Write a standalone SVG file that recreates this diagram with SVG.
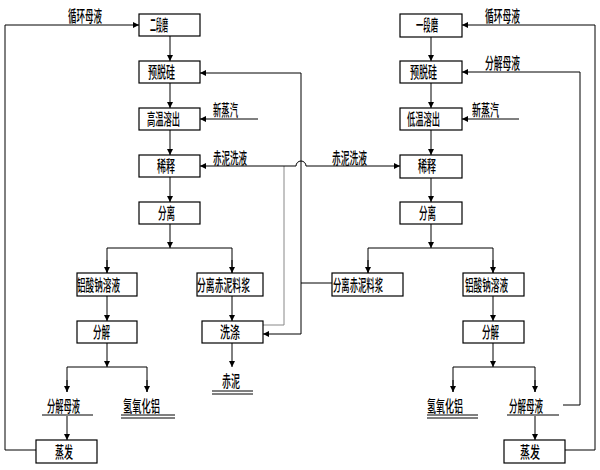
<svg xmlns="http://www.w3.org/2000/svg" width="600" height="470" viewBox="0 0 600 470">
<defs>
<marker id="ar" viewBox="0 0 10 10" refX="10" refY="5" markerWidth="7" markerHeight="6" orient="auto" markerUnits="userSpaceOnUse">
<path d="M0,0 L10,5 L0,10 z" fill="#000"/>
</marker>
</defs>
<style>
.box{fill:#fff;stroke:#000;stroke-width:1.2}
.ln{fill:none;stroke:#000;stroke-width:1}
.gr{fill:none;stroke:#888;stroke-width:1}
.t{font-family:"Noto Sans CJK SC","Noto Sans CJK JP",sans-serif;font-size:16px;font-weight:500;fill:#000}
</style>
<rect width="600" height="470" fill="#fff"/>
<g id="connectors">
<path class="ln" d="M170,36 V61" marker-end="url(#ar)"/>
<path class="ln" d="M170,83 V108" marker-end="url(#ar)"/>
<path class="ln" d="M170,130 V155" marker-end="url(#ar)"/>
<path class="ln" d="M170,177 V202" marker-end="url(#ar)"/>
<path class="ln" d="M170,224 V248" marker-end="url(#ar)"/>
<path class="ln" d="M107,273 V248 H232 V273" />
<path class="ln" d="M107,260 V273" marker-end="url(#ar)"/>
<path class="ln" d="M232,260 V273" marker-end="url(#ar)"/>
<path class="ln" d="M107,296 V321" marker-end="url(#ar)"/>
<path class="ln" d="M232,296 V321" marker-end="url(#ar)"/>
<path class="ln" d="M107,343 V367" marker-end="url(#ar)"/>
<path class="ln" d="M67,392 V367 H147 V392"/>
<path class="ln" d="M67,380 V392" marker-end="url(#ar)"/>
<path class="ln" d="M147,380 V392" marker-end="url(#ar)"/>
<path class="ln" d="M67,416 V440" marker-end="url(#ar)"/>
<path class="ln" d="M232,343 V367" marker-end="url(#ar)"/>
<path class="ln" d="M36,450 H5 V25 H139" marker-end="url(#ar)"/>
<path class="ln" d="M258,119 H200" marker-end="url(#ar)"/>
<path class="ln" d="M301,334 V73 H200" marker-end="url(#ar)"/>
<path class="ln" d="M301,334 H263" marker-end="url(#ar)"/>
<path class="gr" d="M263,325 H284 V166"/>
<path class="ln" d="M284,166 H200" marker-end="url(#ar)"/>
<path class="ln" d="M284,166 H296 A5,5 0 0 1 306,166 H400" marker-end="url(#ar)"/>
<path class="ln" d="M301,283 H332"/>
<path class="ln" d="M431,37 V61" marker-end="url(#ar)"/>
<path class="ln" d="M431,83 V108" marker-end="url(#ar)"/>
<path class="ln" d="M431,130 V155" marker-end="url(#ar)"/>
<path class="ln" d="M431,178 V202" marker-end="url(#ar)"/>
<path class="ln" d="M431,224 V248" marker-end="url(#ar)"/>
<path class="ln" d="M368,273 V248 H493 V273"/>
<path class="ln" d="M368,260 V273" marker-end="url(#ar)"/>
<path class="ln" d="M493,260 V273" marker-end="url(#ar)"/>
<path class="ln" d="M493,296 V321" marker-end="url(#ar)"/>
<path class="ln" d="M493,343 V367" marker-end="url(#ar)"/>
<path class="ln" d="M453,392 V367 H535 V392"/>
<path class="ln" d="M453,380 V392" marker-end="url(#ar)"/>
<path class="ln" d="M535,380 V392" marker-end="url(#ar)"/>
<path class="ln" d="M535,416 V440" marker-end="url(#ar)"/>
<path class="ln" d="M565,450 H595 V25 H462" marker-end="url(#ar)"/>
<path class="ln" d="M563,405 H580 V72 H462" marker-end="url(#ar)"/>
<path class="ln" d="M519,119 H462" marker-end="url(#ar)"/>
</g>
<g id="labels">
<text class="t" x="68" y="22" textLength="34" lengthAdjust="spacingAndGlyphs">循环母液</text>
<text class="t" x="485" y="22" textLength="35" lengthAdjust="spacingAndGlyphs">循环母液</text>
<text class="t" x="485" y="69" textLength="35" lengthAdjust="spacingAndGlyphs">分解母液</text>
<text class="t" x="213" y="116" textLength="25" lengthAdjust="spacingAndGlyphs">新蒸汽</text>
<text class="t" x="472" y="116" textLength="27" lengthAdjust="spacingAndGlyphs">新蒸汽</text>
<text class="t" x="213" y="164" textLength="34" lengthAdjust="spacingAndGlyphs">赤泥洗液</text>
<text class="t" x="332" y="164" textLength="35" lengthAdjust="spacingAndGlyphs">赤泥洗液</text>
</g>
<g id="n1"><rect class="box" x="139" y="14" width="61" height="22"/><text class="t" x="150" y="31" textLength="18" lengthAdjust="spacingAndGlyphs">二段磨</text></g>
<g id="n2"><rect class="box" x="139" y="61" width="61" height="22"/><text class="t" x="148" y="78" textLength="27" lengthAdjust="spacingAndGlyphs">预脱硅</text></g>
<g id="n3"><rect class="box" x="139" y="108" width="61" height="22"/><text class="t" x="147" y="125" textLength="33" lengthAdjust="spacingAndGlyphs">高温溶出</text></g>
<g id="n4"><rect class="box" x="139" y="155" width="61" height="22"/><text class="t" x="157" y="172" textLength="18" lengthAdjust="spacingAndGlyphs">稀释</text></g>
<g id="n5"><rect class="box" x="139" y="202" width="61" height="22"/><text class="t" x="158" y="219" textLength="17" lengthAdjust="spacingAndGlyphs">分离</text></g>
<g id="n6"><rect class="box" x="77" y="273" width="60" height="23"/><text class="t" x="77" y="291" textLength="43" lengthAdjust="spacingAndGlyphs">铝酸钠溶液</text></g>
<g id="n7"><rect class="box" x="197" y="273" width="66" height="23"/><text class="t" x="197" y="291" textLength="53" lengthAdjust="spacingAndGlyphs">分离赤泥料浆</text></g>
<g id="n8"><rect class="box" x="77" y="321" width="60" height="22"/><text class="t" x="93" y="338" textLength="17" lengthAdjust="spacingAndGlyphs">分解</text></g>
<g id="n9"><rect class="box" x="202" y="321" width="61" height="22"/><text class="t" x="220" y="338" textLength="20" lengthAdjust="spacingAndGlyphs">洗涤</text></g>
<g id="n10"><text class="t" x="47" y="412" textLength="33" lengthAdjust="spacingAndGlyphs">分解母液</text><path class="ln" d="M42,415 H93"/></g>
<g id="n11"><text class="t" x="123" y="412" textLength="37" lengthAdjust="spacingAndGlyphs">氢氧化铝</text><path class="ln" d="M121,415 H175 M121,418 H175"/></g>
<g id="n12"><text class="t" x="222" y="387" textLength="18" lengthAdjust="spacingAndGlyphs">赤泥</text><path class="ln" d="M212,391 H253 M212,394 H253"/></g>
<g id="n13"><rect class="box" x="36" y="440" width="61" height="23"/><text class="t" x="55" y="458" textLength="18" lengthAdjust="spacingAndGlyphs">蒸发</text></g>
<g id="m1"><rect class="box" x="400" y="14" width="62" height="23"/><text class="t" x="416" y="31" textLength="22" lengthAdjust="spacingAndGlyphs">一段磨</text></g>
<g id="m2"><rect class="box" x="400" y="61" width="62" height="22"/><text class="t" x="410" y="78" textLength="27" lengthAdjust="spacingAndGlyphs">预脱硅</text></g>
<g id="m3"><rect class="box" x="400" y="108" width="62" height="22"/><text class="t" x="407" y="125" textLength="33" lengthAdjust="spacingAndGlyphs">低温溶出</text></g>
<g id="m4"><rect class="box" x="400" y="155" width="62" height="23"/><text class="t" x="418" y="172" textLength="18" lengthAdjust="spacingAndGlyphs">稀释</text></g>
<g id="m5"><rect class="box" x="400" y="202" width="62" height="22"/><text class="t" x="419" y="219" textLength="17" lengthAdjust="spacingAndGlyphs">分离</text></g>
<g id="m6"><rect class="box" x="332" y="273" width="71" height="23"/><text class="t" x="333" y="291" textLength="50" lengthAdjust="spacingAndGlyphs">分离赤泥料浆</text></g>
<g id="m7"><rect class="box" x="463" y="273" width="61" height="23"/><text class="t" x="465" y="291" textLength="43" lengthAdjust="spacingAndGlyphs">铝酸钠溶液</text></g>
<g id="m8"><rect class="box" x="463" y="321" width="61" height="22"/><text class="t" x="482" y="338" textLength="17" lengthAdjust="spacingAndGlyphs">分解</text></g>
<g id="m9"><text class="t" x="427" y="412" textLength="36" lengthAdjust="spacingAndGlyphs">氢氧化铝</text><path class="ln" d="M427,415 H478 M427,418 H478"/></g>
<g id="m10"><text class="t" x="509" y="412" textLength="34" lengthAdjust="spacingAndGlyphs">分解母液</text><path class="ln" d="M507,415 H559"/></g>
<g id="m11"><rect class="box" x="504" y="440" width="61" height="23"/><text class="t" x="520" y="458" textLength="20" lengthAdjust="spacingAndGlyphs">蒸发</text></g>
</svg>
